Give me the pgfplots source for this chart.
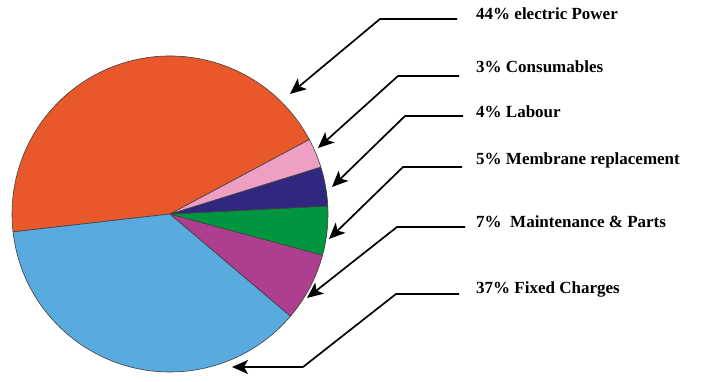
\documentclass[border=0pt]{standalone}
\usepackage{pgfplots}
\pgfplotsset{compat=1.18}
\usepackage{fontspec}
\setmainfont{Liberation Serif}
\usetikzlibrary{arrows.meta}
\definecolor{cOrange}{HTML}{E8582A}
\definecolor{cBlue}{HTML}{58AADF}
\definecolor{cMag}{HTML}{AE3F8E}
\definecolor{cGreen}{HTML}{00963F}
\definecolor{cNavy}{HTML}{30287F}
\definecolor{cPink}{HTML}{F09FC4}
% shares in percent
\def\pPower{44}\def\pFixed{37}\def\pMaint{7}\def\pMemb{5}\def\pLab{4}\def\pCons{3}
\pgfmathsetmacro\aA{28.1}
\pgfmathsetmacro\aB{\aA+3.6*\pPower}
\pgfmathsetmacro\aC{\aB+3.6*\pFixed}
\pgfmathsetmacro\aD{\aC+3.6*\pMaint}
\pgfmathsetmacro\aE{\aD+3.6*\pMemb}
\pgfmathsetmacro\aF{\aE+3.6*\pLab}
\pgfmathsetmacro\aG{\aF+3.6*\pCons}
\begin{document}
\begin{tikzpicture}
\begin{axis}[width=701pt,height=376pt,scale only axis,
  xmin=0,xmax=701,ymin=0,ymax=376,hide axis,clip=false]
\path (axis cs:0,0) rectangle (axis cs:701,376);
\tikzset{wedge/.style={draw=black!75,line width=0.6pt,line join=round},
  arr/.style={line width=1.7pt,-{Stealth[length=16pt,width=14pt,inset=4pt]}}}
\filldraw[wedge,fill=cOrange] (axis cs:170,162) -- ++(\aA:158pt) arc[start angle=\aA,end angle=\aB,radius=158pt] -- cycle;
\filldraw[wedge,fill=cBlue] (axis cs:170,162) -- ++(\aB:158pt) arc[start angle=\aB,end angle=\aC,radius=158pt] -- cycle;
\filldraw[wedge,fill=cMag] (axis cs:170,162) -- ++(\aC:158pt) arc[start angle=\aC,end angle=\aD,radius=158pt] -- cycle;
\filldraw[wedge,fill=cGreen] (axis cs:170,162) -- ++(\aD:158pt) arc[start angle=\aD,end angle=\aE,radius=158pt] -- cycle;
\filldraw[wedge,fill=cNavy] (axis cs:170,162) -- ++(\aE:158pt) arc[start angle=\aE,end angle=\aF,radius=158pt] -- cycle;
\filldraw[wedge,fill=cPink] (axis cs:170,162) -- ++(\aF:158pt) arc[start angle=\aF,end angle=\aG,radius=158pt] -- cycle;
\draw[arr] (axis cs:457,357) -- (axis cs:380,357) -- (axis cs:290,282);
\draw[arr] (axis cs:459,300) -- (axis cs:398,300) -- (axis cs:318,228);
\draw[arr] (axis cs:463,260) -- (axis cs:405,260) -- (axis cs:332,189);
\draw[arr] (axis cs:462,209) -- (axis cs:403,209) -- (axis cs:329,137);
\draw[arr] (axis cs:465,149) -- (axis cs:397,149) -- (axis cs:307,78);
\draw[arr] (axis cs:459,82) -- (axis cs:396,82) -- (axis cs:303,9) -- (axis cs:232,9);
\tikzset{lab/.style={anchor=base west,inner sep=0pt,font=\fontsize{17}{19}\selectfont\bfseries}}
\node[lab] at (axis cs:476,356) {44\% electric Power};
\node[lab] at (axis cs:476,303) {3\% Consumables};
\node[lab] at (axis cs:476,258) {4\% Labour};
\node[lab] at (axis cs:476,211) {5\% Membrane replacement};
\node[lab] at (axis cs:476,148) {7\%\ \ Maintenance \& Parts};
\node[lab] at (axis cs:476,83) {37\% Fixed Charges};
\end{axis}
\end{tikzpicture}
\end{document}
